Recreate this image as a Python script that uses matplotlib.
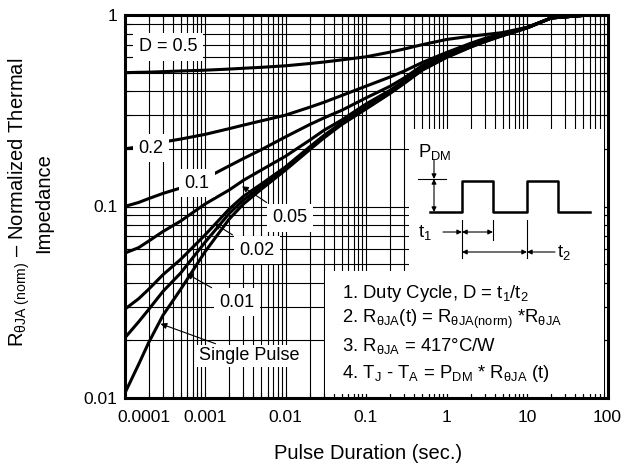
import matplotlib
matplotlib.use("Agg")
import matplotlib.pyplot as plt
import matplotlib.transforms as mtransforms
from matplotlib.patches import Rectangle
from matplotlib.ticker import LogLocator, NullFormatter

plt.rcParams['font.family'] = ['Liberation Sans', 'DejaVu Sans']
plt.rcParams['mathtext.fontset'] = 'custom'
plt.rcParams['mathtext.rm'] = 'Liberation Sans'
plt.rcParams['mathtext.it'] = 'Liberation Sans:italic'
plt.rcParams['mathtext.bf'] = 'Liberation Sans:bold'

# pulse duration (sec.)
pulse_time = [1e-4, 1.5e-4, 2e-4, 3e-4, 5e-4, 1e-3, 2e-3, 3e-3, 5e-3, 1e-2,
              2e-2, 3e-2, 5e-2, 0.1, 0.2, 0.3, 0.5, 1, 2, 3, 5, 10, 20, 50, 100]

# normalized thermal impedance per duty cycle
z_d50 = [0.50, 0.502, 0.503, 0.506, 0.51, 0.515, 0.522, 0.527, 0.533, 0.543,
         0.558, 0.568, 0.583, 0.605, 0.64, 0.665, 0.70, 0.745, 0.775, 0.79,
         0.81, 0.862, 0.965, 0.995, 1.0]
z_d20 = [0.20, 0.205, 0.21, 0.217, 0.225, 0.238, 0.255, 0.266, 0.28, 0.30,
         0.33, 0.35, 0.38, 0.425, 0.475, 0.51, 0.565, 0.637, 0.712, 0.755,
         0.80, 0.86, 0.965, 0.995, 1.0]
z_d10 = [0.10, 0.105, 0.11, 0.117, 0.125, 0.14, 0.163, 0.178, 0.198, 0.231,
         0.268, 0.29, 0.318, 0.369, 0.425, 0.47, 0.545, 0.622, 0.70, 0.745,
         0.795, 0.859, 0.965, 0.995, 1.0]
z_d05 = [0.057, 0.061, 0.066, 0.074, 0.084, 0.103, 0.122, 0.137, 0.155, 0.183,
         0.222, 0.25, 0.283, 0.343, 0.405, 0.455, 0.53, 0.612, 0.69, 0.735,
         0.79, 0.858, 0.965, 0.995, 1.0]
z_d02 = [0.029, 0.033, 0.037, 0.044, 0.053, 0.071, 0.097, 0.113, 0.131, 0.161,
         0.205, 0.235, 0.274, 0.33, 0.395, 0.446, 0.522, 0.605, 0.685, 0.73,
         0.785, 0.857, 0.965, 0.995, 1.0]
z_d01 = [0.0205, 0.025, 0.029, 0.036, 0.045, 0.065, 0.092, 0.108, 0.127, 0.158,
         0.201, 0.231, 0.27, 0.326, 0.392, 0.443, 0.518, 0.602, 0.682, 0.728,
         0.782, 0.856, 0.965, 0.995, 1.0]
z_single = [0.0105, 0.015, 0.0195, 0.027, 0.037, 0.058, 0.086, 0.103, 0.123, 0.155,
            0.198, 0.228, 0.268, 0.323, 0.39, 0.44, 0.515, 0.60, 0.68, 0.725,
            0.78, 0.855, 0.965, 0.995, 1.0]

x_ticks = [1e-4, 1e-3, 1e-2, 1e-1, 1, 10, 100]
x_tick_labels = ["0.0001", "0.001", "0.01", "0.1", "1", "10", "100"]
y_ticks = [0.01, 0.1, 1]
y_tick_labels = ["0.01", "0.1", "1"]

notes = [
    "1. Duty Cycle, D = t$_1$/t$_2$",
    r"2. R$_{\mathrm{θJA}}$(t) = R$_{\mathrm{θJA(norm)}}$ *R$_{\mathrm{θJA}}$",
    r"3. R$_{\mathrm{θJA}}$ = 417°C/W",
    r"4. T$_{\mathrm{J}}$ - T$_{\mathrm{A}}$ = P$_{\mathrm{DM}}$ * R$_{\mathrm{θJA}}$ (t)",
]

fig = plt.figure(figsize=(6.36, 4.68), dpi=100)
ax = fig.add_axes([124.5 / 636, 1 - 398 / 468, 483 / 636, 383 / 468])

ax.set_xscale('log')
ax.set_yscale('log')
ax.set_xlim(1e-4, 100)
ax.set_ylim(0.01, 1)

ax.xaxis.set_minor_locator(LogLocator(base=10, subs=range(2, 10), numticks=20))
ax.yaxis.set_minor_locator(LogLocator(base=10, subs=range(2, 10), numticks=20))
ax.xaxis.set_minor_formatter(NullFormatter())
ax.yaxis.set_minor_formatter(NullFormatter())
ax.set_xticks(x_ticks, x_tick_labels)
ax.set_yticks(y_ticks, y_tick_labels)
ax.grid(True, which='both', color='black', lw=0.8)
ax.tick_params(which='both', direction='in', top=True, right=True,
               length=4, width=0.8, labelsize=12.5)
ax.tick_params(axis='x', pad=9)
ax.tick_params(axis='y', pad=5)
for sp in ax.spines.values():
    sp.set_linewidth(2.2)

# shift the first x label right, as in the original
lbl = ax.get_xticklabels()[0]
lbl.set_transform(lbl.get_transform() +
                  mtransforms.ScaledTranslation(0.19, 0, fig.dpi_scale_trans))

for z in [z_d50, z_d20, z_d10, z_d05, z_d02, z_d01, z_single]:
    ax.plot(pulse_time, z, color='black', lw=2.2, zorder=3)

# white panels for the inset
ax.add_patch(Rectangle((0.588, 0.329), 0.404, 0.373, transform=ax.transAxes,
                       facecolor='white', edgecolor='none', zorder=4))
ax.add_patch(Rectangle((0.415, 0.011), 0.577, 0.32, transform=ax.transAxes,
                       facecolor='white', edgecolor='none', zorder=4))

box = dict(facecolor='white', edgecolor='none', boxstyle='square,pad=0.3')
ax.text(3.47e-4, 0.681, "D = 0.5", fontsize=13, ha='center', va='center', bbox=box, zorder=5)
ax.text(2.13e-4, 0.202, "0.2", fontsize=13, ha='center', va='center', bbox=box, zorder=5)
ax.text(7.95e-4, 0.1326, "0.1", fontsize=13, ha='center', va='center', bbox=box, zorder=5)

arrow = dict(arrowstyle='-|>', color='black', lw=0.8, mutation_scale=9)
ax.annotate("0.05", xy=(2.7e-3, 0.13), xytext=(0.0114, 0.0871), fontsize=13,
            ha='center', va='center', bbox=box, arrowprops=arrow, zorder=5)
ax.annotate("0.02", xy=(1.22e-3, 0.083), xytext=(4.43e-3, 0.0591), fontsize=13,
            ha='center', va='center', bbox=box, arrowprops=arrow, zorder=5)
ax.annotate("0.01", xy=(5.5e-4, 0.0454), xytext=(2.5e-3, 0.0317), fontsize=13,
            ha='center', va='center', bbox=box, arrowprops=arrow, zorder=5)
ax.annotate("Single Pulse", xy=(2.6e-4, 0.0247), xytext=(3.52e-3, 0.0166), fontsize=13,
            ha='center', va='center', bbox=dict(facecolor='white', edgecolor='none',
                                                boxstyle='square,pad=0.15'),
            arrowprops=arrow, zorder=5)

# pulse diagram
T = ax.transAxes
wave_x = [0.6325, 0.6988, 0.6988, 0.7629, 0.7629, 0.8333, 0.8333, 0.8975, 0.8975, 0.9638]
wave_y = [0.4856, 0.4856, 0.5666, 0.5666, 0.4856, 0.4856, 0.5666, 0.5666, 0.4856, 0.4856]
ax.plot(wave_x, wave_y, color='black', lw=1.8, transform=T, zorder=6, clip_on=False)
ax.plot([0.6077, 0.6656], [0.5718, 0.5718], color='black', lw=0.8, transform=T, zorder=6)
for xm, y0, y1 in [(0.6988, 0.4648, 0.3655), (0.7629, 0.4648, 0.4125), (0.8333, 0.4648, 0.3655)]:
    ax.plot([xm, xm], [y0, y1], color='black', lw=0.8, transform=T, zorder=6)

small = dict(arrowstyle='-|>', color='black', lw=0.8, mutation_scale=7,
             shrinkA=0, shrinkB=0)
both = dict(arrowstyle='<|-|>', color='black', lw=0.8, mutation_scale=7,
            shrinkA=0, shrinkB=0)
ax.annotate("", xy=(0.6408, 0.5718), xytext=(0.6408, 0.6214), xycoords=T, arrowprops=small, zorder=6)
ax.annotate("", xy=(0.6408, 0.4856), xytext=(0.6408, 0.5718), xycoords=T, arrowprops=both, zorder=6)
ax.annotate("", xy=(0.6988, 0.4334), xytext=(0.6594, 0.4334), xycoords=T, arrowprops=small, zorder=6)
ax.annotate("", xy=(0.7629, 0.4334), xytext=(0.6988, 0.4334), xycoords=T, arrowprops=both, zorder=6)
ax.annotate("", xy=(0.8333, 0.3812), xytext=(0.6988, 0.3812), xycoords=T, arrowprops=both, zorder=6)
ax.annotate("", xy=(0.8333, 0.3812), xytext=(0.8913, 0.3812), xycoords=T, arrowprops=small, zorder=6)

ax.text(0.6077, 0.6423, "P$_{\\mathrm{DM}}$", fontsize=13.3, transform=T,
        ha='left', va='center', zorder=6)
ax.text(0.6077, 0.4334, "t$_1$", fontsize=13.3, transform=T, ha='left', va='center', zorder=6)
ax.text(0.8954, 0.3812, "t$_2$", fontsize=13.3, transform=T, ha='left', va='center', zorder=6)

for i, line in enumerate(notes):
    ax.text(0.450, 0.274 - i * 0.0697, line, fontsize=13.3, transform=T,
            ha='left', va='center', zorder=6)

ax.set_xlabel("Pulse Duration (sec.)", fontsize=14.5)
ax.xaxis.set_label_coords(0.505, -0.12)
ax.set_ylabel("R$_{\\mathrm{θJA\\ (norm)}}$ – Normalized Thermal\nImpedance",
              fontsize=14.5, linespacing=1.15)
ax.yaxis.set_label_coords(-0.148, 0.51)

fig.savefig("out.png", dpi=100)
